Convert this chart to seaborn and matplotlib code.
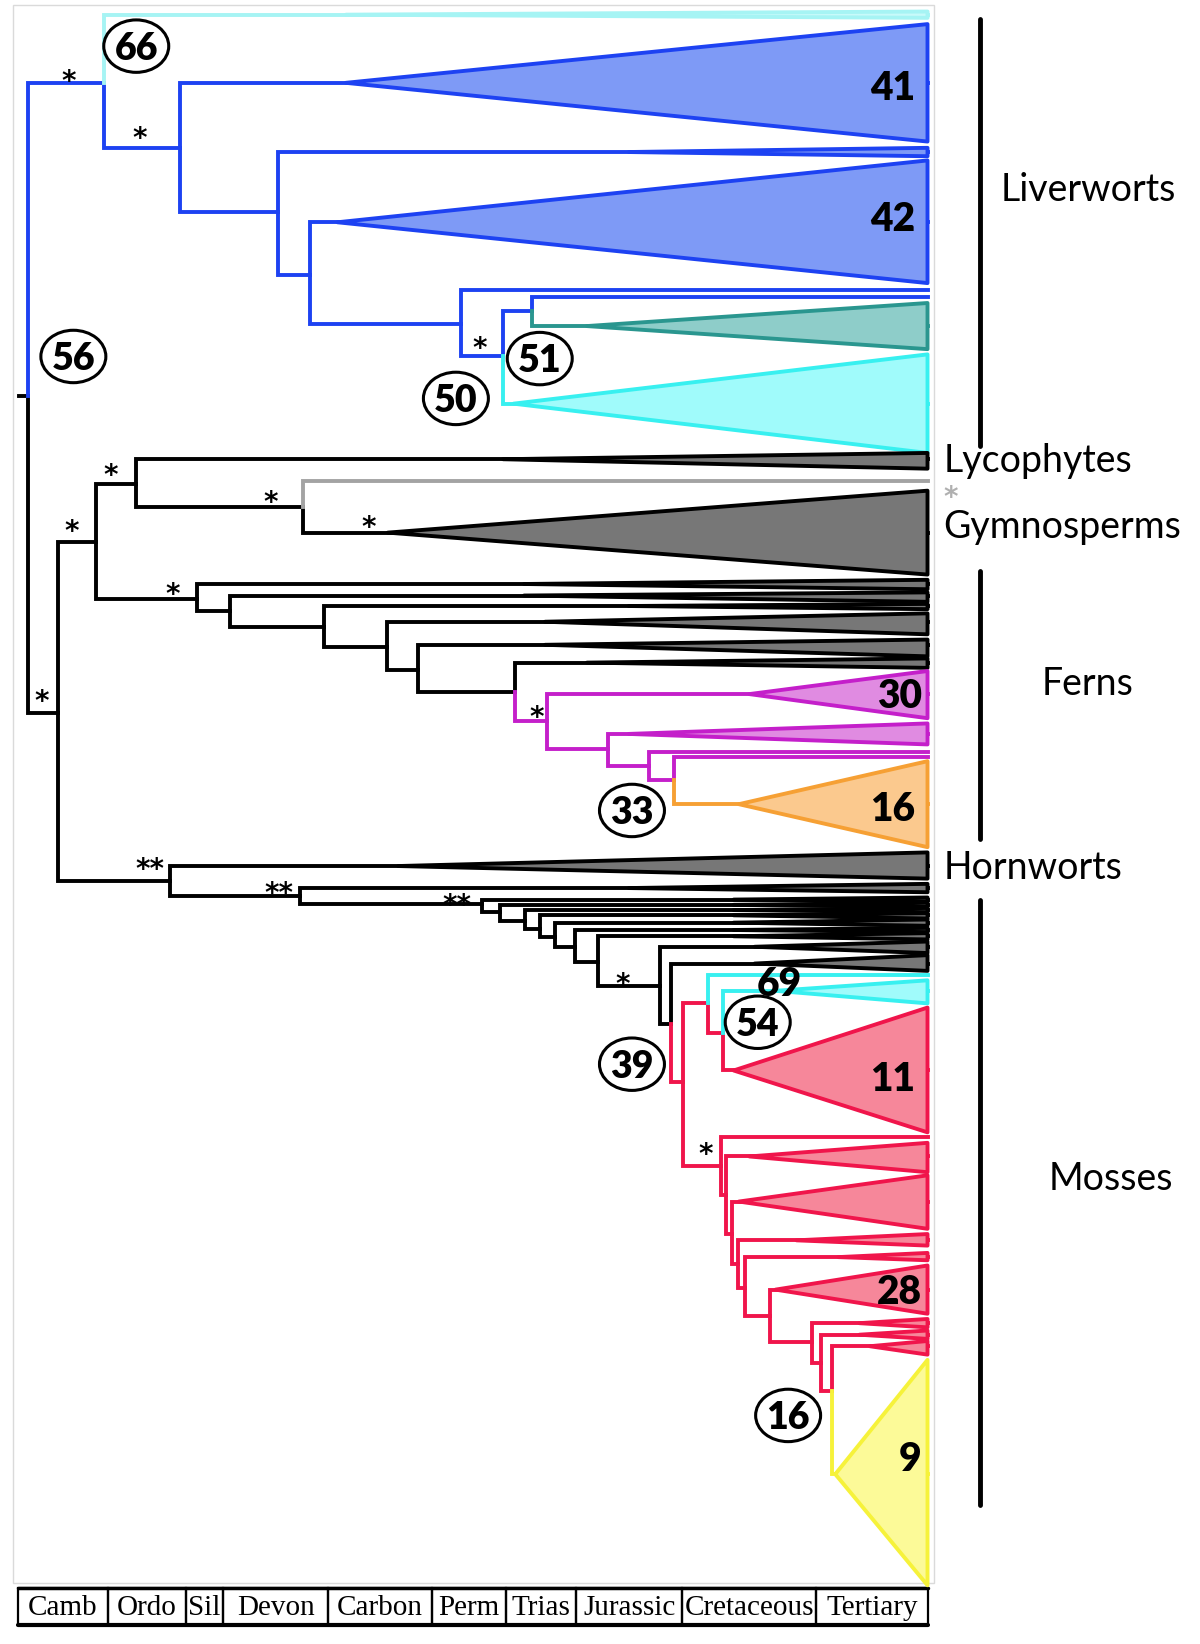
import pandas as pd
import seaborn as sns
import matplotlib.pyplot as plt
from matplotlib.patches import Ellipse, Rectangle

# ---- tree data (x = position on the time axis, y = row; axis units) ----
# internal nodes
node_name = ['R', 'L1', 'L2', 'L3', 'L4', 'L5', 'L6', 'L7',
             'A1', 'A2', 'A3', 'A4', 'A5', 'A6', 'A7', 'A8', 'A9', 'A10',
             'M1', 'M2', 'M3', 'M4',
             'H1', 'H2', 'H3', 'H4', 'H5', 'H6', 'H7', 'H8', 'H9', 'B1', 'B2',
             'S1', 'S2', 'S3', 'S5', 'S6', 'S7', 'S8', 'S9', 'S10', 'S11', 'S12', 'S13']
node_parent = [None, 'R', 'L1', 'L2', 'L3', 'L4', 'L5', 'L6',
               'R', 'A1', 'A2', 'A3', 'A2', 'A5', 'A6', 'A7', 'A8', 'A9',
               'A10', 'M1', 'M2', 'M3',
               'A1', 'H1', 'H2', 'H3', 'H4', 'H5', 'H6', 'H7', 'H8', 'H9', 'B1',
               'B2', 'S1', 'S2', 'S1', 'S5', 'S6', 'S7', 'S8', 'S9', 'S10', 'S11', 'S12']
node_x = [27, 99, 172, 265, 296, 440, 480, 508,
          55, 92, 130, 289, 188, 219, 309, 369, 399, 491,
          522, 580, 619, 643,
          162, 286, 460, 477, 501, 515, 530, 549, 571, 630, 640,
          652, 676, 690, 688, 693, 698, 704, 711, 735, 775, 783, 794]
node_y = [378, 79, 141, 202, 262, 309, 340, 297,
          680, 517, 462, 484, 571, 583, 598, 617, 639, 660,
          688, 714, 731, 744,
          840, 855, 862, 870, 878, 886, 894, 903, 918, 940, 977,
          1032, 957, 985, 1112, 1140, 1177, 1206, 1228, 1255, 1280, 1300, 1327]
node_color = ['black'] + ['blue'] * 7 + ['black'] * 10 + ['magenta'] * 4 + \
             ['black'] * 11 + ['red'] * 12
root_stem = 18

# collapsed clades (triangles) and single tips
tip_parent = ['L1', 'L2', 'L3', 'L4', 'L5', 'L7', 'L7', 'L6',
              'A3', 'A4', 'A4', 'A5', 'A6', 'A7', 'A8', 'A9', 'A10',
              'M1', 'M2', 'M3', 'M4', 'M4',
              'H1', 'H2', 'H3', 'H4', 'H5', 'H6', 'H7', 'H8', 'H9', 'B1', 'B2',
              'S2', 'S3', 'S3', 'S5', 'S6', 'S7', 'S8', 'S9', 'S10', 'S11', 'S12',
              'S13', 'S13']
tip_y = [14, 79, 145, 212, 277, 283, 311, 385,
         438, 459, 508, 557, 568, 578, 593, 615, 632,
         662, 700, 717, 722, 767,
         826, 847, 858, 863, 868, 873, 880, 887, 893, 903, 919,
         930, 945, 1021, 1084, 1103, 1146, 1183, 1199, 1230, 1262, 1273,
         1284, 1406]
tip_apex = [330, 330, 600, 322, 885, 885, 560, 490,
            480, 885, 370, 500, 500, 600, 520, 520, 560,
            715, 600, 885, 885, 705,
            380, 600, 700, 700, 700, 700, 700, 700, 700, 720, 720,
            885, 740, 700, 885, 715, 705, 760, 800, 740, 820, 820,
            830, 797]
tip_top = [11, 23, 141, 153, 277, 283, 289, 338,
           432, 459, 468, 553, 565, 576, 585, 610, 628,
           640, 690, 717, 722, 726,
           813, 843, 856, 861, 866, 871, 877, 885, 890, 898, 911,
           930, 935, 961, 1084, 1090, 1121, 1177, 1195, 1207, 1258, 1269,
           1279, 1297]
tip_bottom = [17, 135, 149, 270, 277, 283, 333, 432,
              447, 459, 548, 562, 574, 581, 605, 626, 637,
              685, 710, 717, 722, 808,
              838, 851, 860, 865, 870, 876, 883, 889, 896, 909, 926,
              930, 957, 1080, 1084, 1118, 1172, 1188, 1202, 1253, 1266, 1277,
              1292, 1512]
tip_color = ['pale', 'blue', 'blue', 'blue', 'blue', 'blue', 'teal', 'cyan',
             'black', 'lgray', 'black', 'black', 'black', 'black', 'black', 'black', 'black',
             'magenta', 'magenta', 'magenta', 'magenta', 'orange',
             'black', 'black', 'black', 'black', 'black', 'black', 'black', 'black', 'black',
             'black', 'black',
             'cyan', 'cyan', 'red', 'red', 'red', 'red', 'red', 'red', 'red', 'red', 'red',
             'red', 'yellow']
tip_end = 885

# clade sizes written in the triangles
count_text = ['41', '42', '30', '16', '11', '28', '9', '69']
count_x = [852, 852, 858, 852, 852, 858, 868, 744]
count_y = [82, 207, 662, 770, 1027, 1230, 1390, 937]

# circled numbers
circle_text = ['66', '56', '51', '50', '33', '39', '54', '16']
circle_x = [130, 70, 515, 435, 603, 603, 723, 752]
circle_y = [44, 340, 342, 380, 773, 1015, 975, 1350]

# support asterisks
star_text = ['*', '*', '*', '*', '*', '*', '*', '*', '*', '*', '*', '*', '**', '**', '**']
star_x = [66, 133, 458, 106, 68, 258, 352, 40, 165, 512, 594, 673, 143, 266, 436]
star_y = [70, 125, 325, 446, 500, 472, 496, 662, 560, 677, 932, 1094, 822, 845, 856]

# geological periods (time scale bar)
period_names = ['Camb', 'Ordo', 'Sil', 'Devon', 'Carbon', 'Perm', 'Trias',
                'Jurassic', 'Cretaceous', 'Tertiary']
period_edges = [17, 103, 177, 213, 313, 412, 483, 550, 651, 779, 885]

line_colors = {'black': '#000000', 'blue': '#1d42f2', 'pale': '#a6f4f4',
               'cyan': '#38f0f0', 'teal': '#2a968f', 'lgray': '#a3a3a3',
               'magenta': '#c41fca', 'orange': '#f6a034', 'red': '#f0154b',
               'yellow': '#f6f23a'}
fill_colors = {'black': '#777777', 'blue': '#7e9af6', 'pale': '#c8fafa',
               'cyan': '#a0fbfb', 'teal': '#8ecdc9', 'lgray': '#bbbbbb',
               'magenta': '#e08be1', 'orange': '#fbc98e', 'red': '#f6879a',
               'yellow': '#fcfa98'}
LW = 2.8


def build_segments():
    """Elbow paths from each parent node to its child."""
    pos = {n: (x, y) for n, x, y in zip(node_name, node_x, node_y)}
    rows = [(0, root_stem, pos['R'][1], 'black'), (0, pos['R'][0], pos['R'][1], 'black')]
    seg = 0
    for p, x, y, c in zip(node_parent, node_x, node_y, node_color):
        if p is None:
            continue
        seg += 1
        px, py = pos[p]
        rows += [(seg, px, py, c), (seg, px, y, c), (seg, x, y, c)]
    for p, y, a, c in zip(tip_parent, tip_y, tip_apex, tip_color):
        seg += 1
        px, py = pos[p]
        rows += [(seg, px, py, c), (seg, px, y, c), (seg, a, y, c)]
        if a < tip_end:
            rows += [(seg, tip_end, y, c)]
    return pd.DataFrame(rows, columns=['seg', 'x', 'y', 'clade'])


def main():
    sns.set_theme(style='white')
    plt.rcParams['font.family'] = ['Lato', 'DejaVu Sans']
    plt.rcParams['text.color'] = 'black'

    fig = plt.figure(figsize=(12, 16.44), dpi=100)
    ax = fig.add_axes([0, 0, 1, 1])

    df = build_segments()
    sns.lineplot(data=df, x='x', y='y', units='seg', hue='clade', palette=line_colors,
                 estimator=None, sort=False, legend=False, linewidth=LW, ax=ax,
                 solid_joinstyle='miter', solid_capstyle='projecting', zorder=2)

    # collapsed clades
    for y, a, t, b, c in zip(tip_y, tip_apex, tip_top, tip_bottom, tip_color):
        if t == b:
            continue
        ax.fill([a, tip_end, tip_end], [y, t, b], facecolor=fill_colors[c],
                edgecolor=line_colors[c], lw=LW, joinstyle='round', zorder=3)

    # faint frame round the tree
    ax.add_patch(Rectangle((12, 5), 879, 1505, fill=False, ec='#dadada', lw=1, zorder=1))

    # numbers
    u = 1.389 / 1.048  # axis units per point
    for s, x, y in zip(count_text, count_x, count_y):
        ax.text(x, y + 0.36 * 28 * u, s, fontsize=28, fontweight='heavy',
                ha='center', va='baseline', zorder=6)
    for s, x, y in zip(circle_text, circle_x, circle_y):
        ax.add_patch(Ellipse((x, y), 62, 50, fc='white', ec='black', lw=2.2, zorder=5))
        ax.text(x, y + 0.36 * 27 * u, s, fontsize=27, fontweight='heavy',
                ha='center', va='baseline', zorder=6)
    for s, x, y in zip(star_text, star_x, star_y):
        ax.text(x, y + 0.58 * 20 * u, s, fontsize=20, family='DejaVu Sans',
                fontweight='bold', ha='center', va='baseline', zorder=6)
    ax.text(907, 467 + 0.58 * 20 * u, '*', fontsize=20, family='DejaVu Sans',
            fontweight='bold', color='#b0b0b0', ha='center', va='baseline')

    # group labels and bars
    ax.plot([935, 935], [18, 425], color='black', lw=3.5)
    ax.plot([935, 935], [545, 800], color='black', lw=3.5)
    ax.plot([935, 935], [858, 1435], color='black', lw=3.5)
    ax.text(1038, 192, 'Liverworts', fontsize=27, ha='center', va='baseline')
    ax.text(900, 450, 'Lycophytes', fontsize=27, ha='left', va='baseline')
    ax.text(900, 513, 'Gymnosperms', fontsize=27, ha='left', va='baseline')
    ax.text(1038, 663, 'Ferns', fontsize=27, ha='center', va='baseline')
    ax.text(900, 838, 'Hornworts', fontsize=27, ha='left', va='baseline')
    ax.text(1060, 1135, 'Mosses', fontsize=27, ha='center', va='baseline')

    # time scale
    for name, x0, x1 in zip(period_names, period_edges[:-1], period_edges[1:]):
        ax.add_patch(Rectangle((x0, 1515), x1 - x0, 35, fill=False, ec='black', lw=1.6))
        ax.text((x0 + x1) / 2, 1534, name, fontsize=21, family='Liberation Serif',
                ha='center', va='center')
    ax.plot([period_edges[0], period_edges[-1]], [1515, 1515], color='black', lw=2.5)
    ax.plot([period_edges[0], period_edges[-1]], [1550, 1550], color='black', lw=3)

    ax.set_xlim(0, 1145)
    ax.set_ylim(1568, 0)
    ax.axis('off')
    fig.savefig('out.png', dpi=100, facecolor='white')


if __name__ == '__main__':
    main()
